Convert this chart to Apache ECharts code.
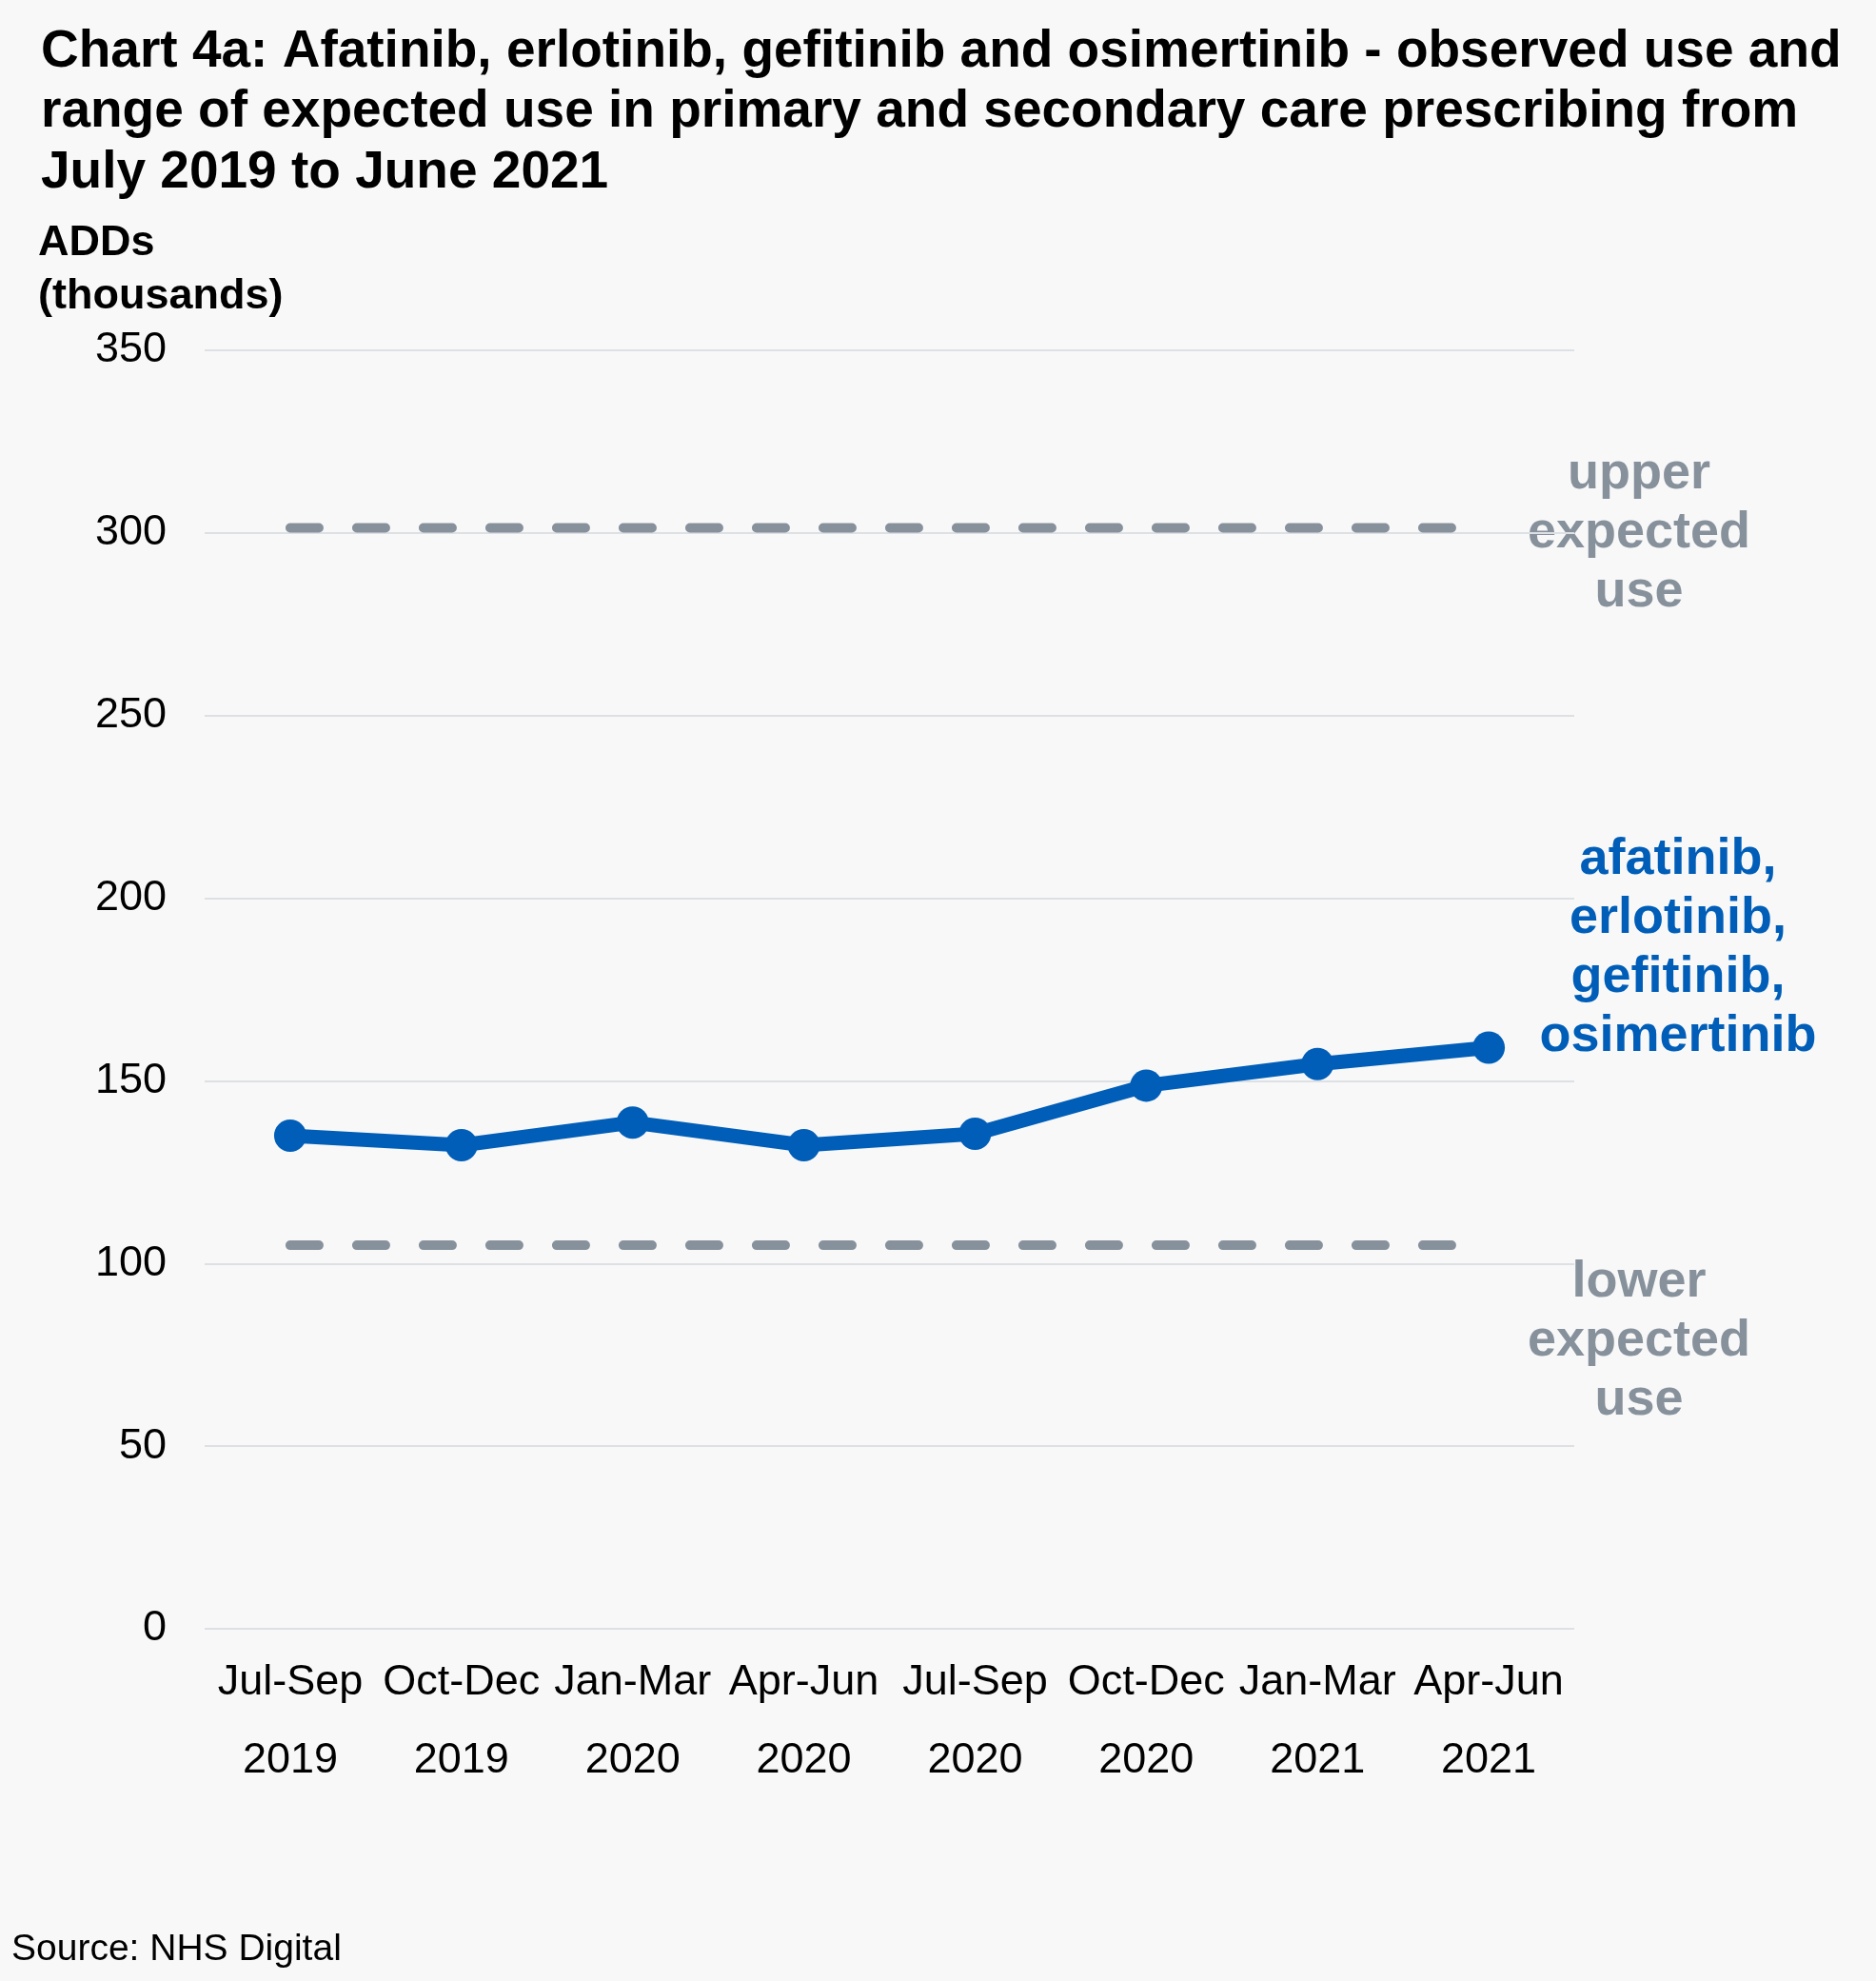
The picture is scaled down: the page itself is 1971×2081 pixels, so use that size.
<!DOCTYPE html>
<html>
<head>
<meta charset="utf-8">
<script src="https://cdn.jsdelivr.net/npm/echarts@6/dist/echarts.min.js"></script>
<style>
  html, body { margin: 0; padding: 0; background: #f8f8f8; }
  #chart { width: 1971px; height: 2081px; }
</style>
</head>
<body>
<div id="chart"></div>
<script>
// quarters shown on the x axis
var categories = ['Jul-Sep\n2019', 'Oct-Dec\n2019', 'Jan-Mar\n2020', 'Apr-Jun\n2020',
  'Jul-Sep\n2020', 'Oct-Dec\n2020', 'Jan-Mar\n2021', 'Apr-Jun\n2021'];
// observed ADDs (thousands)
var observed = [135.0, 132.4, 138.6, 132.4, 135.5, 148.7, 154.6, 159.1];
// expected use range
var upperExpected = [301.4, 301.4, 301.4, 301.4, 301.4, 301.4, 301.4, 301.4];
var lowerExpected = [105.0, 105.0, 105.0, 105.0, 105.0, 105.0, 105.0, 105.0];
var yTicks = [0, 50, 100, 150, 200, 250, 300, 350];

var font = '"Liberation Sans", Arial, sans-serif';
var blue = '#005eb8';
var grey = '#87919c';

var chart = echarts.init(document.getElementById('chart'));

var option = {
  backgroundColor: '#f8f8f8',
  textStyle: { fontFamily: font },
  animation: false,
  title: [
    {
      text: 'Chart 4a: Afatinib, erlotinib, gefitinib and osimertinib - observed use and\nrange of expected use in primary and secondary care prescribing from\nJuly 2019 to June 2021',
      left: 38,
      top: 18,
      textStyle: { fontFamily: font, fontSize: 55, fontWeight: 'bold', color: '#000', lineHeight: 63.5 }
    },
    {
      text: 'ADDs\n(thousands)',
      left: 35,
      top: 223,
      textStyle: { fontFamily: font, fontSize: 45, fontWeight: 'bold', color: '#000', lineHeight: 56 }
    },
    {
      text: 'Source: NHS Digital',
      left: 7,
      top: 2024,
      textStyle: { fontFamily: font, fontSize: 39, fontWeight: 'normal', color: '#000' }
    }
  ],
  grid: { left: 215, right: 317, top: 368, bottom: 370, containLabel: false },
  xAxis: {
    type: 'category',
    data: categories,
    boundaryGap: true,
    axisLine: { show: false },
    axisTick: { show: false },
    axisLabel: {
      fontFamily: font, fontSize: 45, color: '#000', lineHeight: 82, margin: 16, interval: 0
    }
  },
  yAxis: {
    type: 'value',
    min: yTicks[0],
    max: yTicks[yTicks.length - 1],
    interval: 50,
    axisLine: { show: false },
    axisTick: { show: false },
    axisLabel: { fontFamily: font, fontSize: 45, color: '#000', margin: 40, padding: [4, 0, 0, 0] },
    splitLine: { lineStyle: { color: '#dde0e4', width: 2 } }
  },
  series: [
    {
      name: 'upper expected use',
      type: 'line',
      data: upperExpected,
      symbol: 'none',
      lineStyle: { color: grey, width: 10, type: [30, 40], cap: 'round' },
      z: 2
    },
    {
      name: 'lower expected use',
      type: 'line',
      data: lowerExpected,
      symbol: 'none',
      lineStyle: { color: grey, width: 10, type: [30, 40], cap: 'round' },
      z: 2
    },
    {
      name: 'afatinib, erlotinib, gefitinib, osimertinib',
      type: 'line',
      data: observed,
      symbol: 'circle',
      symbolSize: 34,
      itemStyle: { color: blue },
      lineStyle: { color: blue, width: 15 },
      z: 3
    }
  ],
  graphic: [
    {
      type: 'text', x: 1722, y: 467,
      style: { text: 'upper\nexpected\nuse', fill: grey, font: 'bold 54px ' + font, lineHeight: 62, align: 'center', verticalAlign: 'top' }
    },
    {
      type: 'text', x: 1763, y: 872,
      style: { text: 'afatinib,\nerlotinib,\ngefitinib,\nosimertinib', fill: blue, font: 'bold 54px ' + font, lineHeight: 62, align: 'center', verticalAlign: 'top' }
    },
    {
      type: 'text', x: 1722, y: 1316,
      style: { text: 'lower\nexpected\nuse', fill: grey, font: 'bold 54px ' + font, lineHeight: 62, align: 'center', verticalAlign: 'top' }
    }
  ]
};

chart.setOption(option);
</script>
</body>
</html>
